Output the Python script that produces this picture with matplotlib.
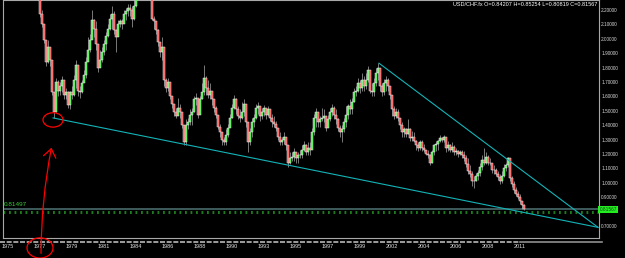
import matplotlib
matplotlib.use("Agg")
import matplotlib.pyplot as plt
from matplotlib.patches import Ellipse, FancyArrowPatch

plt.rcParams['font.family'] = ['Liberation Sans', 'DejaVu Sans']

# USD/CHF bars (one bar every ~1.7 months, 1975 -> 2011)
closes = [
    2.55, 2.58, 2.62, 2.60, 2.52, 2.48, 2.55, 2.58, 2.52, 2.50,
    2.48, 2.46, 2.50, 2.47, 2.44, 2.38, 2.17, 2.10, 1.99, 1.84,
    1.94, 1.85, 1.63, 1.49, 1.70, 1.64, 1.67, 1.71, 1.61, 1.63,
    1.54, 1.63, 1.61, 1.71, 1.82, 1.64, 1.63, 1.69, 1.75, 1.84,
    1.92, 1.99, 2.13, 2.07, 1.96, 1.80, 1.85, 1.91, 1.96, 2.02,
    2.07, 2.14, 2.17, 2.06, 2.01, 2.10, 2.12, 2.10, 2.17, 2.19,
    2.21, 2.20, 2.14, 2.23, 2.30, 2.38, 2.50, 2.60, 2.75, 2.88,
    2.65, 2.38, 2.14, 2.12, 2.06, 1.98, 1.91, 1.94, 1.71, 1.66,
    1.70, 1.60, 1.55, 1.49, 1.46, 1.52, 1.49, 1.40, 1.28, 1.40,
    1.42, 1.47, 1.49, 1.58, 1.59, 1.47, 1.58, 1.63, 1.73, 1.66,
    1.61, 1.64, 1.58, 1.52, 1.47, 1.39, 1.35, 1.30, 1.28, 1.33,
    1.38, 1.45, 1.52, 1.58, 1.51, 1.46, 1.45, 1.49, 1.55, 1.42,
    1.28, 1.35, 1.42, 1.45, 1.52, 1.53, 1.46, 1.49, 1.52, 1.47,
    1.51, 1.45, 1.42, 1.41, 1.38, 1.32, 1.28, 1.30, 1.32, 1.26,
    1.14, 1.17, 1.18, 1.21, 1.17, 1.19, 1.19, 1.23, 1.26, 1.21,
    1.24, 1.23, 1.35, 1.45, 1.49, 1.42, 1.44, 1.45, 1.46, 1.38,
    1.44, 1.49, 1.52, 1.47, 1.44, 1.38, 1.35, 1.37, 1.42, 1.47,
    1.53, 1.51, 1.56, 1.63, 1.64, 1.69, 1.66, 1.71, 1.67, 1.71,
    1.78, 1.64, 1.63, 1.69, 1.76, 1.80, 1.67, 1.63, 1.69, 1.71,
    1.67, 1.61, 1.51, 1.46, 1.49, 1.45, 1.40, 1.35, 1.37, 1.34,
    1.37, 1.31, 1.32, 1.29, 1.26, 1.24, 1.28, 1.24, 1.23, 1.20,
    1.19, 1.14, 1.21, 1.26, 1.27, 1.29, 1.31, 1.30, 1.32, 1.24,
    1.26, 1.23, 1.25, 1.21, 1.22, 1.20, 1.21, 1.19, 1.17, 1.13,
    1.08, 1.06, 1.01, 1.01, 1.05, 1.07, 1.11, 1.16, 1.14, 1.18,
    1.14, 1.14, 1.09, 1.09, 1.06, 1.04, 1.01, 1.05, 1.10, 1.12,
    1.17, 1.03, 0.99, 0.95, 0.92, 0.90, 0.87, 0.842, 0.8157,
]
highs = [
    2.58, 2.61, 2.65, 2.64, 2.60, 2.53, 2.58, 2.61, 2.59, 2.54,
    2.52, 2.50, 2.53, 2.51, 2.48, 2.45, 2.30, 2.20, 2.10, 1.98,
    1.99, 1.91, 1.73, 1.61, 1.73, 1.71, 1.70, 1.74, 1.67, 1.66,
    1.64, 1.64, 1.67, 1.75, 1.85, 1.68, 1.67, 1.71, 1.78, 1.87,
    2.01, 2.03, 2.20, 2.14, 2.12, 1.96, 1.92, 1.94, 1.99, 2.05,
    2.10, 2.17, 2.23, 2.19, 2.07, 2.13, 2.14, 2.14, 2.20, 2.21,
    2.24, 2.24, 2.23, 2.28, 2.34, 2.42, 2.55, 2.66, 2.82, 2.93,
    2.90, 2.68, 2.40, 2.16, 2.12, 2.07, 1.96, 2.01, 1.87, 1.73,
    1.73, 1.66, 1.59, 1.55, 1.52, 1.59, 1.55, 1.49, 1.40, 1.44,
    1.45, 1.51, 1.52, 1.60, 1.62, 1.59, 1.60, 1.69, 1.82, 1.74,
    1.71, 1.69, 1.63, 1.58, 1.53, 1.47, 1.41, 1.35, 1.32, 1.37,
    1.41, 1.48, 1.55, 1.61, 1.59, 1.53, 1.51, 1.56, 1.58, 1.53,
    1.42, 1.38, 1.45, 1.48, 1.55, 1.56, 1.52, 1.52, 1.54, 1.52,
    1.53, 1.51, 1.48, 1.46, 1.43, 1.38, 1.35, 1.32, 1.35, 1.32,
    1.26, 1.21, 1.21, 1.24, 1.21, 1.21, 1.23, 1.26, 1.29, 1.27,
    1.28, 1.28, 1.38, 1.48, 1.52, 1.48, 1.46, 1.52, 1.51, 1.44,
    1.47, 1.52, 1.55, 1.53, 1.51, 1.45, 1.40, 1.40, 1.45, 1.53,
    1.55, 1.58, 1.59, 1.66, 1.67, 1.73, 1.71, 1.76, 1.74, 1.76,
    1.81, 1.76, 1.69, 1.73, 1.80, 1.83, 1.80, 1.69, 1.72, 1.74,
    1.73, 1.67, 1.60, 1.53, 1.52, 1.51, 1.45, 1.42, 1.39, 1.38,
    1.44, 1.38, 1.36, 1.35, 1.30, 1.28, 1.30, 1.30, 1.27, 1.23,
    1.23, 1.20, 1.23, 1.27, 1.29, 1.30, 1.33, 1.32, 1.33, 1.31,
    1.29, 1.27, 1.28, 1.26, 1.24, 1.23, 1.23, 1.23, 1.22, 1.19,
    1.17, 1.12, 1.08, 1.05, 1.07, 1.09, 1.14, 1.19, 1.24, 1.21,
    1.19, 1.17, 1.14, 1.12, 1.10, 1.08, 1.06, 1.08, 1.13, 1.14,
    1.18, 1.16, 1.05, 1.01, 0.97, 0.94, 0.92, 0.87, 0.8525,
]
lows = [
    2.51, 2.53, 2.56, 2.57, 2.50, 2.45, 2.47, 2.53, 2.50, 2.47,
    2.45, 2.43, 2.45, 2.44, 2.37, 2.33, 2.15, 2.08, 1.97, 1.81,
    1.83, 1.81, 1.61, 1.45, 1.49, 1.60, 1.61, 1.63, 1.58, 1.58,
    1.52, 1.51, 1.58, 1.60, 1.66, 1.60, 1.59, 1.62, 1.70, 1.73,
    1.88, 1.91, 2.05, 2.01, 1.92, 1.77, 1.81, 1.84, 1.89, 1.92,
    2.01, 2.06, 2.07, 2.03, 1.91, 2.02, 2.08, 2.07, 2.12, 2.13,
    2.16, 2.16, 2.08, 2.13, 2.22, 2.28, 2.36, 2.48, 2.58, 2.72,
    2.60, 2.32, 2.13, 2.07, 2.03, 1.95, 1.87, 1.85, 1.67, 1.63,
    1.64, 1.58, 1.52, 1.46, 1.45, 1.48, 1.45, 1.38, 1.26, 1.26,
    1.37, 1.40, 1.40, 1.49, 1.54, 1.45, 1.51, 1.58, 1.61, 1.61,
    1.59, 1.58, 1.54, 1.49, 1.45, 1.37, 1.32, 1.26, 1.26, 1.26,
    1.32, 1.39, 1.45, 1.51, 1.48, 1.44, 1.42, 1.44, 1.46, 1.39,
    1.21, 1.26, 1.32, 1.39, 1.44, 1.48, 1.43, 1.44, 1.46, 1.44,
    1.46, 1.43, 1.39, 1.39, 1.36, 1.30, 1.26, 1.26, 1.27, 1.23,
    1.11, 1.13, 1.15, 1.15, 1.14, 1.14, 1.17, 1.17, 1.22, 1.19,
    1.19, 1.19, 1.26, 1.33, 1.39, 1.39, 1.39, 1.43, 1.42, 1.36,
    1.39, 1.43, 1.46, 1.44, 1.41, 1.36, 1.32, 1.28, 1.35, 1.39,
    1.44, 1.48, 1.48, 1.56, 1.60, 1.63, 1.62, 1.64, 1.64, 1.65,
    1.70, 1.62, 1.60, 1.60, 1.67, 1.71, 1.64, 1.60, 1.61, 1.64,
    1.64, 1.58, 1.46, 1.44, 1.45, 1.43, 1.37, 1.32, 1.32, 1.32,
    1.34, 1.29, 1.29, 1.28, 1.23, 1.22, 1.23, 1.22, 1.21, 1.19,
    1.17, 1.12, 1.14, 1.19, 1.22, 1.23, 1.28, 1.28, 1.28, 1.21,
    1.22, 1.21, 1.21, 1.19, 1.19, 1.18, 1.19, 1.17, 1.15, 1.11,
    1.06, 1.04, 0.98, 0.96, 1.01, 1.02, 1.05, 1.09, 1.12, 1.13,
    1.12, 1.12, 1.07, 1.06, 1.05, 1.02, 0.99, 1.00, 1.04, 1.08,
    1.11, 1.01, 0.97, 0.93, 0.91, 0.89, 0.85, 0.82, 0.808,
]

year_labels = ['1975', '1977', '1979', '1981', '1984', '1986', '1988', '1990',
               '1993', '1995', '1997', '1999', '2002', '2004', '2006', '2008', '2011']
bars_per_label = 16

# 0.80000 sits under the last-price box, so it is not shown
price_ticks = [0.7, 0.9, 1.0, 1.1, 1.2, 1.3, 1.4, 1.5, 1.6, 1.7, 1.8,
               1.9, 2.0, 2.1, 2.2]

# hand drawn trend lines (bar index, price)
support_x = [22.5, 295]
support_y = [1.45, 0.69]
resist_x = [185.5, 295]
resist_y = [1.83, 0.69]

last_price = 0.81567
last_label = '0.81567'
ask_line = 0.800
left_label = '0.81497'
title = 'USD/CHF.fx O=0.84207 H=0.85254 L=0.80819 C=0.81567'

fig = plt.figure(figsize=(6.25, 2.58), dpi=100, facecolor='black')
ax = fig.add_axes([3 / 625, 20 / 258, 596 / 625, 238 / 258])
ax.set_facecolor('black')

n = len(closes)
idx = list(range(n))
opens = [closes[0]] + closes[:-1]

# wicks then bodies
ax.vlines(idx, lows, highs, color='#8c8c8c', lw=0.6, zorder=2)
body_bottom = [min(o, c) for o, c in zip(opens, closes)]
body_height = [abs(c - o) for o, c in zip(opens, closes)]
body_color = ['#3cf03c' if c > o else '#ff4a4a' for o, c in zip(opens, closes)]
ax.bar(idx, body_height, bottom=body_bottom, width=0.85, color=body_color,
       edgecolor='#f0f0f0', linewidth=0.35, zorder=3)

# price lines
ax.axhline(last_price, color='#4a6a6a', lw=1.2, zorder=1)
ax.axhline(ask_line, color='#1e7a1e', lw=2.2, ls=(0, (0.6, 1.2)), zorder=1)
ax.text(-2, 0.828, left_label, color='#3cc83c', fontsize=4.6, ha='left',
        va='bottom', zorder=4)

# trend lines
ax.plot(support_x, support_y, color='#12b4b8', lw=0.8, zorder=4, clip_on=False)
ax.plot(resist_x, resist_y, color='#12b4b8', lw=0.8, zorder=4, clip_on=False)

ax.set_xlim(-2.5, 295.5)
ax.set_ylim(0.616, 2.269)

# right price axis
ax.yaxis.tick_right()
ax.set_yticks(price_ticks)
ax.set_yticklabels([f'{v:.5f}' for v in price_ticks])
ax.tick_params(axis='y', length=0, pad=1.5, labelsize=3.4, colors='#d8d8d8')
ax.text(1.001, last_price, last_label, transform=ax.get_yaxis_transform(),
        fontsize=3.4, color='#104010', ha='left', va='center',
        bbox=dict(boxstyle='square,pad=0.25', fc='#22ee22', ec='none'))

# time axis
tick_pos = [i * bars_per_label for i in range(len(year_labels))]
ax.set_xticks(tick_pos)
ax.set_xticklabels(year_labels)
ax.tick_params(axis='x', length=0, pad=4.5, labelsize=4, colors='#e0e0e0')
strip = ax.get_xaxis_transform()
ax.plot([-4, 256], [-0.017, -0.017], transform=strip, clip_on=False,
        color='#b8b8b8', lw=1.2, ls=(0, (3, 1)))
ax.plot([256, 297], [-0.017, -0.017], transform=strip, clip_on=False,
        color='#909090', lw=1.2)

for s in ax.spines.values():
    s.set_color('#a8a8a8')
    s.set_linewidth(0.8)

ax.text(0.998, 0.992, title, transform=ax.transAxes, ha='right', va='top',
        color='white', fontsize=4)

# red hand annotations
ax.add_patch(Ellipse((22.5, 1.436), 10, 0.10, fill=False, ec='red', lw=0.9,
                     clip_on=False, zorder=6))
ax.add_patch(Ellipse((16, 0.547), 13, 0.14, fill=False, ec='red', lw=0.9,
                     clip_on=False, zorder=6))
arrow = FancyArrowPatch((16.5, 0.49), (22, 1.262),
                        arrowstyle='->,head_length=0.6,head_width=0.45',
                        mutation_scale=10, connectionstyle='arc3,rad=-0.05',
                        color='red', lw=0.9, clip_on=False, zorder=6)
ax.add_patch(arrow)

fig.savefig('out.png', dpi=100, facecolor='black')
